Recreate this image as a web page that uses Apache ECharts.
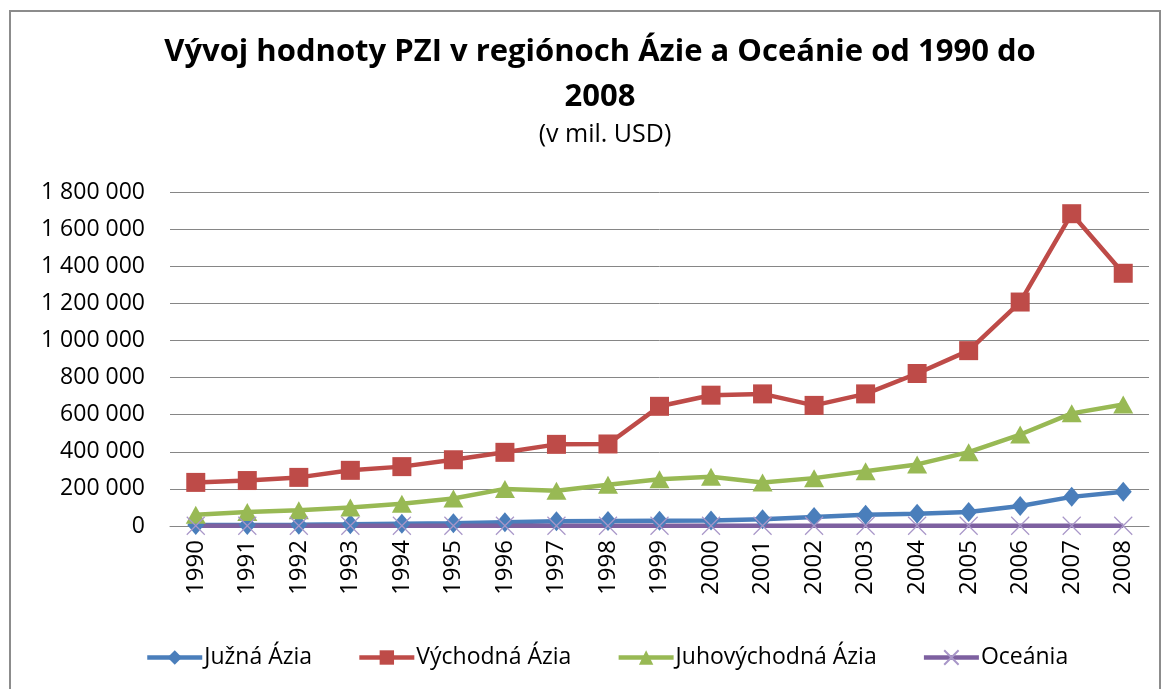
<!DOCTYPE html>
<html>
<head>
<meta charset="utf-8">
<script src="https://cdn.jsdelivr.net/npm/echarts@6/dist/echarts.min.js"></script>
<style>
  html, body { margin: 0; padding: 0; background: #fff; }
  #chart { width: 1166px; height: 689px; }
</style>
</head>
<body>
<div id="chart"></div>
<script>
// roky
const years = ['1990', '1991', '1992', '1993', '1994', '1995', '1996', '1997', '1998', '1999',
  '2000', '2001', '2002', '2003', '2004', '2005', '2006', '2007', '2008'];

// hodnoty PZI (v mil. USD), odčítané z grafu
const juznaAzia = [5000, 6000, 7000, 9000, 12000, 15000, 20000, 25000, 27000, 28000,
  29000, 36000, 48000, 60000, 66000, 76000, 108000, 157000, 184000];
const vychodnaAzia = [235000, 245000, 262000, 300000, 320000, 357000, 397000, 440000, 442000, 645000,
  705000, 712000, 650000, 712000, 822000, 945000, 1207000, 1683000, 1362000];
const juhovychodnaAzia = [60000, 75000, 85000, 100000, 120000, 148000, 200000, 190000, 222000, 252000,
  265000, 235000, 258000, 295000, 332000, 398000, 493000, 607000, 655000];
const oceania = [1500, 1500, 1500, 1500, 1500, 1500, 1500, 1500, 1500, 1500,
  1500, 1500, 1500, 1500, 1500, 1500, 1500, 1500, 1500];

const seriesNames = ['Južná Ázia', 'Východná Ázia', 'Juhovýchodná Ázia', 'Oceánia'];

const font = '"Open Sans", "DejaVu Sans", sans-serif';

function fmt(v) {
  return String(v).replace(/\B(?=(\d{3})+(?!\d))/g, ' ');
}

const chart = echarts.init(document.getElementById('chart'));

chart.setOption({
  animation: false,
  textStyle: { fontFamily: font },
  graphic: [
    {
      type: 'rect',
      shape: { x: 10, y: 11, width: 1150, height: 700 },
      style: { fill: 'none', stroke: '#8c8c8c', lineWidth: 2 },
      silent: true
    }
  ],
  title: [
    {
      text: 'Vývoj hodnoty PZI v regiónoch Ázie a Oceánie od 1990 do\n2008',
      left: 595,
      top: 25,
      textAlign: 'center',
      textStyle: { fontSize: 31, fontWeight: 'bold', color: '#000', lineHeight: 45, fontFamily: font }
    },
    {
      text: '(v mil. USD)',
      left: 600,
      top: 117,
      textAlign: 'center',
      textStyle: { fontSize: 25, fontWeight: 'normal', color: '#000', fontFamily: font }
    }
  ],
  grid: {
    left: 170,
    right: 17,
    top: 192,
    bottom: 163
  },
  legend: {
    top: 641,
    left: 140,
    itemWidth: 55,
    itemHeight: 18,
    itemGap: 45,
    data: seriesNames,
    lineStyle: { width: 4.5 },
    textStyle: { fontSize: 23, color: '#000', fontFamily: font, padding: [0, 0, 0, -3] }
  },
  xAxis: {
    type: 'category',
    data: years,
    boundaryGap: true,
    axisTick: { show: false },
    axisLine: { lineStyle: { color: '#868686', width: 1 } },
    axisLabel: { rotate: 90, fontSize: 24, color: '#000', margin: 14 }
  },
  yAxis: {
    type: 'value',
    min: 0,
    max: 1800000,
    interval: 200000,
    axisLine: { show: false },
    axisTick: { show: false },
    splitLine: { lineStyle: { color: '#868686', width: 1 } },
    axisLabel: { fontSize: 23, color: '#000', margin: 25, formatter: fmt }
  },
  series: [
    {
      name: seriesNames[0],
      type: 'line',
      data: juznaAzia,
      symbol: 'diamond',
      symbolSize: [17, 20],
      lineStyle: { color: '#4a7ebb', width: 4.5 },
      itemStyle: { color: '#4a7ebb' }
    },
    {
      name: seriesNames[1],
      type: 'line',
      data: vychodnaAzia,
      symbol: 'rect',
      symbolSize: 19,
      lineStyle: { color: '#be4b48', width: 4.5 },
      itemStyle: { color: '#be4b48' }
    },
    {
      name: seriesNames[2],
      type: 'line',
      data: juhovychodnaAzia,
      symbol: 'triangle',
      symbolSize: [20, 18],
      lineStyle: { color: '#98b954', width: 4.5 },
      itemStyle: { color: '#98b954' }
    },
    {
      name: seriesNames[3],
      type: 'line',
      data: oceania,
      symbol: 'path://M0,0L10,10M10,0L0,10',
      symbolSize: 18,
      lineStyle: { color: '#7d60a0', width: 4.5 },
      itemStyle: { color: 'none', borderColor: '#a896c8', borderWidth: 1.2 }
    }
  ]
});
</script>
</body>
</html>
